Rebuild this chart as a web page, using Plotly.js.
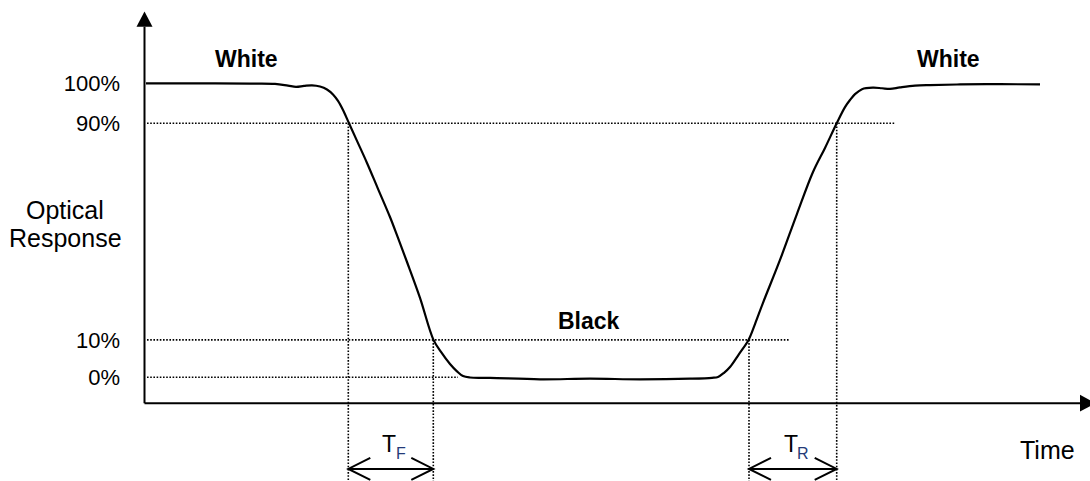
<!DOCTYPE html>
<html>
<head>
<meta charset="utf-8">
<script src="https://cdn.plot.ly/plotly-3.0.1.min.js"></script>
<style>
  html, body { margin: 0; padding: 0; background: #fff; }
  #chart { width: 1090px; height: 481px; }
</style>
</head>
<body>
<div id="chart"></div>
<script>
// ---- data (schematic units) ----
const time = [1, 55, 105, 130, 143, 151, 159, 167, 175, 182, 188, 193, 198, 204, 212, 222, 233, 245, 253, 262, 275, 288.5, 296, 305, 312, 318, 325, 345, 395, 445, 495, 545, 567, 573, 579, 585, 594, 603.5, 610, 618, 635, 652, 668, 680, 691.7, 700, 705, 710, 717, 728, 737, 745, 755, 770, 785, 815, 855, 895];
const response = [100, 100, 99.9, 99.8, 99.2, 98.8, 99.1, 99.3, 98.9, 97.9, 96.2, 94.0, 90.9, 86.4, 80.4, 72.9, 64.1, 54.5, 47.4, 39.2, 27.0, 12.7, 8.6, 4.5, 2.0, 0.4, -0.1, -0.2, -0.7, -0.5, -0.7, -0.5, -0.2, 0.1, 1.5, 3.5, 7.9, 12.7, 18.1, 25.3, 39.9, 55.6, 69.8, 78.0, 86.4, 91.9, 94.3, 96.3, 98.0, 98.5, 98.3, 98.1, 98.6, 99.2, 99.4, 99.6, 99.7, 99.6];

const levelLabels = ['0%', '10%', '90%', '100%'];
const levelPos = [0, 12.7, 86.4, 100];

const fallTimes = [203.3, 288.3];   // 90% and 10% crossings, falling edge
const riseTimes = [604, 691.7];     // 10% and 90% crossings, rising edge

const stateLabels = ['White', 'Black', 'White'];
const yTitleLines = ['Optical', 'Response'];
const xTitle = 'Time';
const intervalLabels = ['F', 'R'];

// ---- layout helpers ----
const FONT = 'Liberation Sans, Arial, Helvetica, sans-serif';
const X0 = -0.5;          // y-axis position (time origin)
const YB = -8.84;         // x-axis position
const YBOTTOM = -35.3;    // bottom of figure
const dotted = {color: '#000', width: 1.6, dash: '1.6px,1.6px'};
const solid = {color: '#000', width: 2};

const shapes = [];
// axes
shapes.push({type: 'line', x0: X0, x1: X0, y0: YB, y1: 119.2, line: solid});
shapes.push({type: 'line', x0: X0, x1: 935, y0: YB, y1: YB, line: solid});
shapes.push({type: 'path', path: `M ${X0 - 8},119.2 L ${X0 + 8},119.2 L ${X0},124.4 Z`, fillcolor: '#000', line: {width: 0}});
shapes.push({type: 'path', path: `M 935,${YB + 2.84} L 935,${YB - 2.84} L 950.6,${YB} Z`, fillcolor: '#000', line: {width: 0}});

// level guide lines
const levelEnds = {'0%': 313, '10%': 644, '90%': 750};
levelLabels.forEach((lab, i) => {
  if (levelEnds[lab] !== undefined) {
    shapes.push({type: 'line', x0: 2, x1: levelEnds[lab], y0: levelPos[i], y1: levelPos[i], line: dotted});
  }
});
// vertical guide lines at crossings
const p90 = levelPos[2], p10 = levelPos[1];
[[fallTimes[0], p90], [fallTimes[1], p10], [riseTimes[0], p10], [riseTimes[1], p90]].forEach(([t, lv]) => {
  shapes.push({type: 'line', x0: t, x1: t, y0: lv, y1: YBOTTOM, line: dotted});
});
// double arrows
const YA = -31.2, DX = 22, DY = 3.74;
[fallTimes, riseTimes].forEach(([a, b]) => {
  shapes.push({type: 'line', x0: a, x1: b, y0: YA, y1: YA, line: solid});
  shapes.push({type: 'path', path: `M ${a + DX},${YA + DY} L ${a},${YA} L ${a + DX},${YA - DY}`, line: solid});
  shapes.push({type: 'path', path: `M ${b - DX},${YA + DY} L ${b},${YA} L ${b - DX},${YA - DY}`, line: solid});
});

const annotations = [];
const statePos = [[101, 108.4], [443.5, 19.3], [803, 108.4]];
stateLabels.forEach((s, i) => {
  annotations.push({x: statePos[i][0], y: statePos[i][1], text: '<b>' + s + '</b>', showarrow: false,
    font: {family: FONT, size: 23, color: '#000'}, xanchor: 'center', yanchor: 'middle'});
});
const titleY = [57.0, 47.2];
yTitleLines.forEach((t, i) => {
  annotations.push({x: -80, y: titleY[i], text: t, showarrow: false,
    font: {family: FONT, size: 25, color: '#000'}, xanchor: 'center', yanchor: 'middle'});
});
annotations.push({x: 902, y: -24.7, text: xTitle, showarrow: false,
  font: {family: FONT, size: 25, color: '#000'}, xanchor: 'center', yanchor: 'middle'});
[[fallTimes, intervalLabels[0]], [riseTimes, intervalLabels[1]]].forEach(([tt, sub]) => {
  const mid = (tt[0] + tt[1]) / 2;
  annotations.push({x: mid - 2, y: -22.7, text: 'T', showarrow: false,
    font: {family: FONT, size: 23, color: '#000'}, xanchor: 'center', yanchor: 'middle'});
  annotations.push({x: mid + 10, y: -25.9, text: sub, showarrow: false,
    font: {family: FONT, size: 16, color: '#233a78'}, xanchor: 'center', yanchor: 'middle'});
});

const trace = {
  x: time, y: response, type: 'scatter', mode: 'lines',
  line: {color: '#000', width: 2.2, shape: 'spline', smoothing: 1},
  hoverinfo: 'skip', showlegend: false
};

const layout = {
  width: 1090, height: 481,
  margin: {l: 0, r: 0, t: 0, b: 0, pad: 0},
  paper_bgcolor: '#fff', plot_bgcolor: '#fff',
  showlegend: false,
  xaxis: {range: [-145, 945], visible: false, zeroline: false, showgrid: false, fixedrange: true},
  yaxis: {
    range: [YBOTTOM, 128.33], anchor: 'free', position: 144.5 / 1090,
    tickvals: levelPos, ticktext: levelLabels,
    ticks: 'outside', ticklen: 20, tickcolor: 'rgba(0,0,0,0)',
    tickfont: {family: FONT, size: 22, color: '#000'},
    showline: false, zeroline: false, showgrid: false, fixedrange: true
  },
  shapes: shapes,
  annotations: annotations
};

Plotly.newPlot('chart', [trace], layout, {displayModeBar: false, staticPlot: true});
</script>
</body>
</html>
